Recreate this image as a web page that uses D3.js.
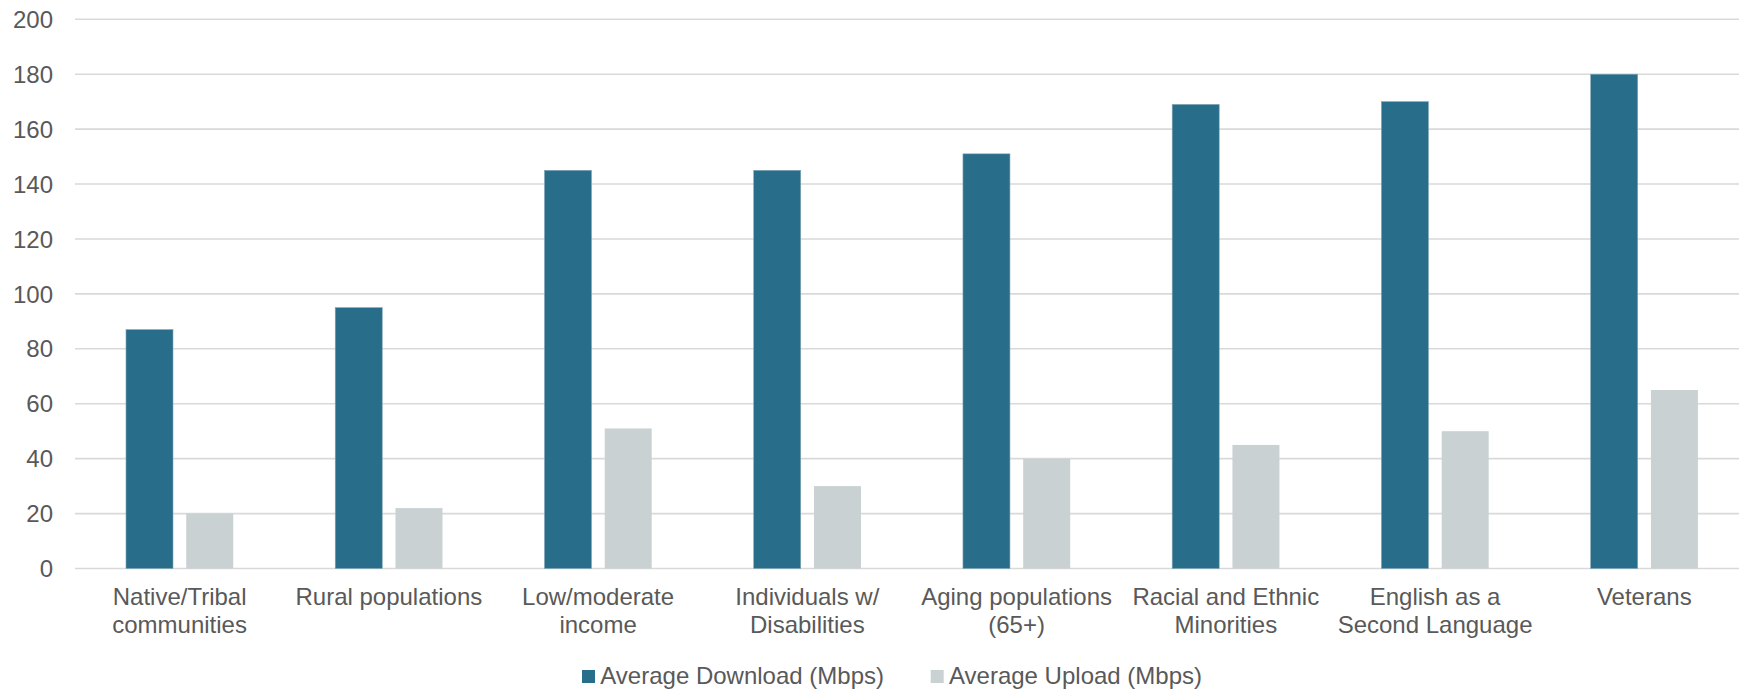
<!DOCTYPE html>
<html>
<head>
<meta charset="utf-8">
<script src="https://cdn.jsdelivr.net/npm/d3@7"></script>
<style>
  html, body { margin: 0; padding: 0; background: #fff; }
  svg { display: block; }
  text { font-family: "Liberation Sans", Arial, sans-serif; fill: #595959; }
</style>
</head>
<body>
<svg id="chart" width="1739" height="690"></svg>
<script>
const categories = [
  ["Native/Tribal", "communities"],
  ["Rural populations"],
  ["Low/moderate", "income"],
  ["Individuals w/", "Disabilities"],
  ["Aging populations", "(65+)"],
  ["Racial and Ethnic", "Minorities"],
  ["English as a", "Second Language"],
  ["Veterans"]
];
const downloadValues = [87, 95, 145, 145, 151, 169, 170, 180];
const uploadValues   = [20, 22, 51, 30, 40, 45, 50, 65];
const seriesNames = ["Average Download (Mbps)", "Average Upload (Mbps)"];
const yTicks = [0, 20, 40, 60, 80, 100, 120, 140, 160, 180, 200];

const colors = ["#286E8A", "#C9D1D3"];
const plotLeft = 75, bandW = 209.24, plotTop = 19.3, plotBottom = 568.5;

const svg = d3.select("#chart");
const keys = categories.map((c, i) => i);

const x = d3.scaleBand().domain(keys).range([plotLeft, plotLeft + bandW * categories.length])
  .paddingInner(0).paddingOuter(0);
const y = d3.scaleLinear().domain([0, 200]).range([plotBottom, plotTop]);
const xs = d3.scaleBand().domain([0, 1]).range([51, bandW - 51]).paddingInner(0.22).paddingOuter(0);

// gridlines
svg.append("g").selectAll("line").data(yTicks).join("line")
  .attr("x1", plotLeft).attr("x2", plotLeft + bandW * categories.length)
  .attr("y1", d => y(d)).attr("y2", d => y(d))
  .attr("stroke", "#D9D9D9").attr("stroke-width", 1.6);

// y labels
svg.append("g").selectAll("text").data(yTicks).join("text")
  .attr("x", 53).attr("y", d => y(d)).attr("dy", "0.36em")
  .attr("text-anchor", "end").attr("font-size", 24)
  .text(d => d);

// bars
const series = [downloadValues, uploadValues];
series.forEach((vals, s) => {
  svg.append("g").selectAll("rect").data(vals).join("rect")
    .attr("x", (d, i) => x(i) + xs(s))
    .attr("width", xs.bandwidth())
    .attr("y", d => y(d))
    .attr("height", d => y(0) - y(d))
    .attr("fill", colors[s])
    .attr("stroke", s === 0 ? "#7FA3B3" : "none")
    .attr("stroke-width", 0.6);
});

// x labels
const xl = svg.append("g").selectAll("text").data(categories).join("text")
  .attr("text-anchor", "middle").attr("font-size", 24)
  .attr("x", (d, i) => x(i) + bandW / 2)
  .attr("y", 605);
xl.each(function(d) {
  const t = d3.select(this);
  d.forEach((line, j) => {
    t.append("tspan").attr("x", t.attr("x")).attr("dy", j === 0 ? 0 : 27.5).text(line);
  });
});

// legend
const legendX = [582, 930.7];
const lg = svg.append("g").selectAll("g").data(seriesNames).join("g")
  .attr("transform", (d, i) => `translate(${legendX[i]},0)`);
lg.append("rect").attr("x", 0).attr("y", 670).attr("width", 13).attr("height", 13)
  .attr("fill", (d, i) => colors[i]);
lg.append("text").attr("x", 18.3).attr("y", 684).attr("font-size", 24).text(d => d);
</script>
</body>
</html>
